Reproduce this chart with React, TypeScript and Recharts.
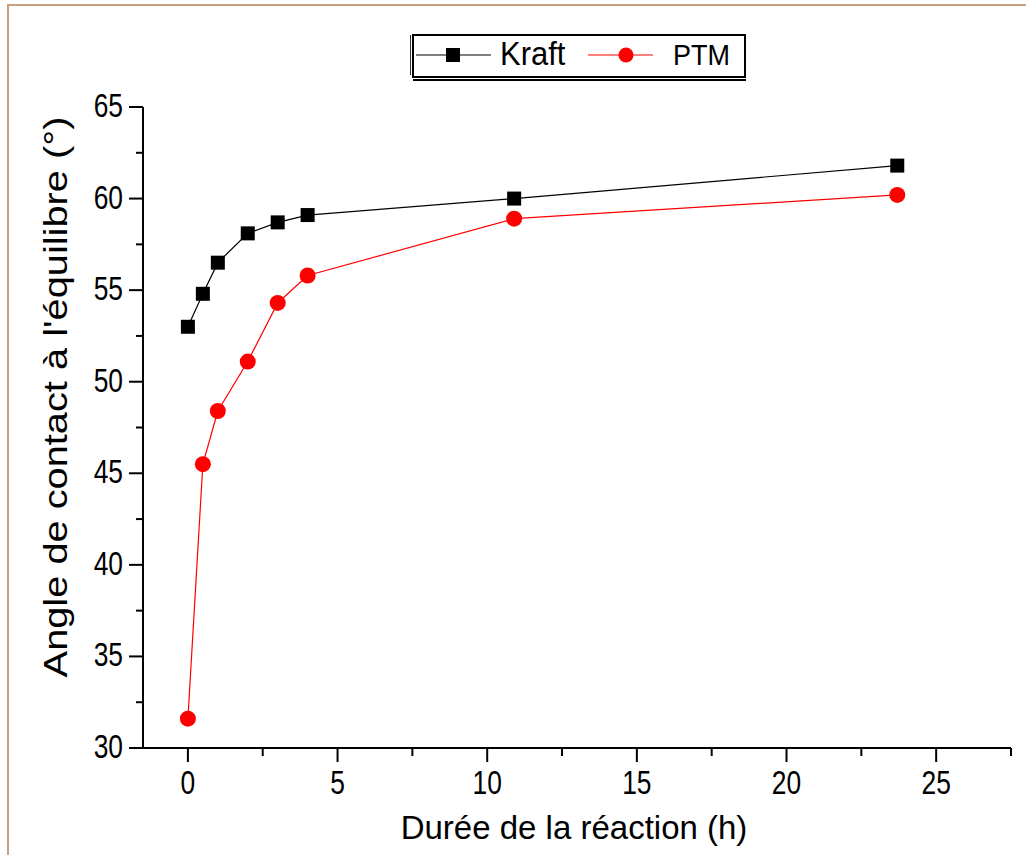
import React from 'react';
import { LineChart, Line, XAxis, YAxis, Legend } from 'recharts';

// reaction time (h), as placed on the plot
const hours = [0, 0.5, 1, 2, 3, 4, 10.9, 23.7];
// equilibrium contact angle (°)
const kraftAngle = [53.0, 54.8, 56.5, 58.1, 58.7, 59.1, 60.0, 61.8];
const ptmAngle = [31.6, 45.5, 48.4, 51.1, 54.3, 55.8, 58.9, 60.2];

const xTicks = [0, 2.5, 5, 7.5, 10, 12.5, 15, 17.5, 20, 22.5, 25, 27.5];
const yTicks = [30, 32.5, 35, 37.5, 40, 42.5, 45, 47.5, 50, 52.5, 55, 57.5, 60, 62.5, 65];

const kraftData = hours.map((h, i) => ({ x: h, y: kraftAngle[i] }));
const ptmData = hours.map((h, i) => ({ x: h, y: ptmAngle[i] }));

const FONT = '"Liberation Sans", Arial, Helvetica, sans-serif';
const W = 1026;
const H = 855;

const isMajor = (v: number) => v % 5 === 0;

const YTick = (props: any) => {
  const { x, y, payload } = props;
  const v = payload.value;
  return (
    <g>
      <line x1={x} x2={x - (isMajor(v) ? 14 : 7)} y1={y} y2={y} stroke="#000" strokeWidth={2} />
      {isMajor(v) && (
        <text transform={`translate(${x - 20},${y - 2}) scale(1,1.27)`} y={9.4} textAnchor="end"
          fontSize={26.4} fontFamily={FONT} fill="#000">{v}</text>
      )}
    </g>
  );
};

const XTick = (props: any) => {
  const { x, y, payload } = props;
  const v = payload.value;
  return (
    <g>
      <line x1={x} x2={x} y1={y} y2={y + (isMajor(v) ? 14 : 8)} stroke="#000" strokeWidth={2} />
      {isMajor(v) && (
        <text transform={`translate(${x},${y + 34}) scale(1,1.27)`} y={9.4} textAnchor="middle"
          fontSize={26.4} fontFamily={FONT} fill="#000">{v}</text>
      )}
    </g>
  );
};

const SquareDot = (props: any) => {
  const { cx, cy, index } = props;
  return <rect key={`sq-${index}`} x={cx - 7} y={cy - 7} width={14} height={14} fill="#000" />;
};

const LegendBox = () => (
  <svg width={345} height={55} style={{ display: 'block' }}>
    <line x1={5.5} x2={5.5} y1={5} y2={45} stroke="#333" strokeWidth={1} />
    <rect x={8} y={5} width={332} height={42} fill="#fff" stroke="#000" strokeWidth={2} />
    <line x1={8} x2={341} y1={50} y2={50} stroke="#000" strokeWidth={2} />
    <line x1={11} x2={86} y1={25} y2={25} stroke="#000" strokeWidth={1.2} />
    <rect x={41} y={18} width={14} height={14} fill="#000" />
    <text transform="translate(95,35) scale(1,1.1)" fontSize={31} fontFamily={FONT} fill="#000">Kraft</text>
    <line x1={183} x2={248} y1={25} y2={25} stroke="#ff0000" strokeWidth={1.2} />
    <circle cx={221} cy={25} r={7.5} fill="#ff0000" />
    <text transform="translate(268,35) scale(1,1.1)" fontSize={27} fontFamily={FONT} fill="#000">PTM</text>
  </svg>
);

export default function App() {
  return (
    <div style={{ position: 'absolute', left: 0, top: 0, width: W, height: H, background: '#fff' }}>
      <div style={{ position: 'absolute', left: 7, top: 4, right: 0, bottom: 0,
        borderTop: '2px solid #c9a07c', borderLeft: '2px solid #c9a07c' }} />
      <div style={{ position: 'absolute', left: 0, top: 0 }}>
        <LineChart width={W} height={H} margin={{ top: 107, right: 15, bottom: 0, left: 0 }}>
          <XAxis
            type="number"
            dataKey="x"
            domain={[-1.5, 27.5]}
            ticks={xTicks}
            allowDataOverflow
            height={107}
            tickSize={0}
            tickMargin={0}
            tickLine={false}
            interval={0}
            axisLine={{ stroke: '#000', strokeWidth: 2 }}
            tick={<XTick />}
            label={{
              content: () => (
                <text x={574} y={839} textAnchor="middle" fontSize={33} fontFamily={FONT} fill="#000">
                  Durée de la réaction (h)
                </text>
              ),
            }}
          />
          <YAxis
            type="number"
            dataKey="y"
            domain={[30, 65]}
            ticks={yTicks}
            allowDataOverflow
            width={143}
            tickSize={0}
            tickMargin={0}
            tickLine={false}
            interval={0}
            axisLine={{ stroke: '#000', strokeWidth: 2 }}
            tick={<YTick />}
            label={{
              content: () => (
                <text transform="translate(58,397) rotate(-90) scale(1.17,1)" y={9} textAnchor="middle"
                  fontSize={34} fontFamily={FONT} fill="#000">
                  Angle de contact à l'équilibre (°)
                </text>
              ),
            }}
          />
          <Legend
            layout="horizontal"
            verticalAlign="middle"
            align="center"
            content={<LegendBox />}
            wrapperStyle={{ position: 'absolute', left: 405, top: 30, width: 345, height: 55 }}
          />
          <Line
            data={kraftData}
            dataKey="y"
            name="Kraft"
            stroke="#000"
            strokeWidth={1.2}
            dot={<SquareDot />}
            activeDot={false}
            isAnimationActive={false}
          />
          <Line
            data={ptmData}
            dataKey="y"
            name="PTM"
            stroke="#ff0000"
            strokeWidth={1.2}
            dot={{ r: 8, fill: '#ff0000', stroke: 'none' }}
            activeDot={false}
            isAnimationActive={false}
          />
        </LineChart>
      </div>
    </div>
  );
}
